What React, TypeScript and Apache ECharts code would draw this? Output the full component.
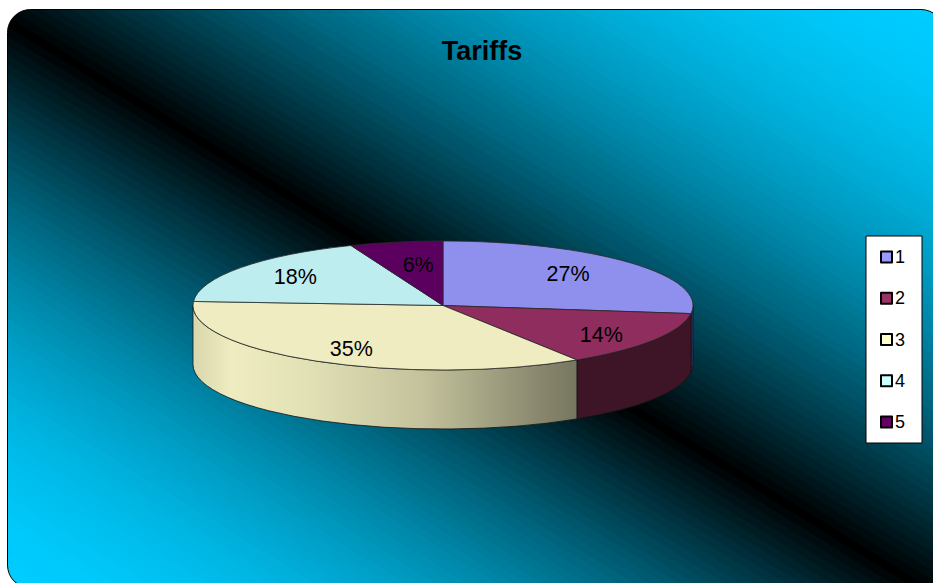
import React, { useEffect, useRef } from "react";
import * as echarts from "echarts";

// Tariff shares, one pie slice per tariff group.
const sliceNames = ["1", "2", "3", "4", "5"];
const sliceValues = [27, 14, 35, 18, 6];
const topColors = ["#8F8FEE", "#8E2D5E", "#EEECC0", "#BDEDEE", "#5C0060"];
const legendColors = ["#9999FF", "#993366", "#FFFFCC", "#CCFFFF", "#660066"];
const wallColors = ["#2E3B73", "#3D1526", "", "", ""];
const labelReach = [
  [0.667, 0.75],
  [0.75, 0.86],
  [0.72, 0.786],
  [0.73, 0.75],
  [0.53, 0.64],
];

const TITLE = "Tariffs";
const WIDTH = 933;
const HEIGHT = 583;

// Disc geometry
const CX = 443;
const CY = 305.5;
const RX = 250;
const RY = 64.5;
const DEPTH = 59;

const total = sliceValues.reduce((a, b) => a + b, 0);

const pointAt = (deg: number, drop = 0) => {
  const t = (deg * Math.PI) / 180;
  return [CX + RX * Math.sin(t), CY - RY * Math.cos(t) + drop];
};

const startAngle = (index: number) =>
  (sliceValues.slice(0, index).reduce((a, b) => a + b, 0) / total) * 360;

const arcTo = (deg: number, drop: number, sweep: 0 | 1, large: number) => {
  const [x, y] = pointAt(deg, drop);
  return `A${RX} ${RY} 0 ${large} ${sweep} ${x} ${y}`;
};

const topPath = (a: number, b: number) => {
  const [sx, sy] = pointAt(a);
  return `M${CX} ${CY}L${sx} ${sy}${arcTo(b, 0, 1, b - a > 180 ? 1 : 0)}Z`;
};

// Outer wall of the disc; only the part between 90 and 270 degrees faces the viewer.
const wallPath = (a: number, b: number) => {
  const from = Math.max(a, 90);
  const to = Math.min(b, 270);
  if (to <= from) return null;
  const [sx, sy] = pointAt(from);
  const [ex, ey] = pointAt(to, DEPTH);
  return (
    `M${sx} ${sy}` +
    arcTo(to, 0, 1, 0) +
    `L${ex} ${ey}` +
    arcTo(from, DEPTH, 0, 0) +
    "Z"
  );
};

// The cream slice has a shaded wall running across the disc.
const creamWall = new echarts.graphic.LinearGradient(
  193,
  0,
  575,
  0,
  [
    { offset: 0, color: "#D9D6AC" },
    { offset: 0.1, color: "#EEECC0" },
    { offset: 0.3, color: "#E2E0B5" },
    { offset: 0.6, color: "#C4C29C" },
    { offset: 1, color: "#777660" },
  ],
  true
);

// Stepped cyan-black-cyan backdrop. The black band sits just under the falling
// diagonal; brightness rises quickly away from it and levels off near the corners.
const BAND_AXIS_LENGTH = 975;
const BAND_WIDTH = 8;
const BLACK_AT = 478 / BAND_AXIS_LENGTH;

const backdropStops = () => {
  const s = BAND_WIDTH / BAND_AXIS_LENGTH;
  const shade = (k: number) => `rgb(0,${Math.round(204 * k)},${Math.round(255 * k)})`;
  const stops: { offset: number; color: string }[] = [];
  const n = Math.ceil(1 / s);
  for (let i = -n; i <= n; i++) {
    const lo = BLACK_AT + (i - 0.5) * s;
    const hi = BLACK_AT + (i + 0.5) * s;
    if (hi < 0 || lo > 1) continue;
    const side = i < 0 ? BLACK_AT : 1 - BLACK_AT;
    const d = Math.min(1, (Math.abs(i) * s) / side);
    const color = shade(1 - Math.pow(1 - d, 1.75));
    stops.push({ offset: Math.max(0, lo), color });
    stops.push({ offset: Math.min(1, hi), color });
  }
  return stops;
};

const backdrop = new echarts.graphic.LinearGradient(
  218.4,
  714.4,
  731.6,
  -114.6,
  backdropStops(),
  true
);

function buildOption() {
  return {
    animation: false,
    title: {
      text: TITLE,
      left: 477,
      top: 32,
      textAlign: "center",
      textStyle: {
        fontFamily: "Liberation Sans",
        fontSize: 27,
        fontWeight: "bold",
        color: "#000",
      },
    },
    legend: {
      orient: "vertical",
      left: 866,
      top: 236,
      padding: [12, 17, 12, 14],
      itemWidth: 11,
      itemHeight: 11,
      itemGap: 23.25,
      selectedMode: false,
      backgroundColor: "#fff",
      borderColor: "#000",
      borderWidth: 1,
      icon: "rect",
      textStyle: {
        fontFamily: "Liberation Sans",
        fontSize: 18,
        color: "#000",
        padding: [0, 0, 0, -2],
      },
      data: sliceNames.map((name, i) => ({
        name,
        itemStyle: {
          color: legendColors[i],
          borderColor: "#000",
          borderWidth: 2,
          borderJoin: "round",
        },
      })),
    },
    graphic: [
      {
        type: "rect",
        z: -10,
        shape: { x: 7.5, y: 9.5, width: 936.5, height: 578.5, r: 23 },
        style: { fill: backdrop, stroke: "#000", lineWidth: 1 },
      },
    ],
    series: sliceNames.map((name, i) => ({
      type: "custom",
      name,
      coordinateSystem: "none",
      data: [sliceValues[i]],
      itemStyle: { color: legendColors[i] },
      renderItem: (_params: any, api: any) => {
        const value = api.value(0);
        const a = startAngle(i);
        const b = a + (value / total) * 360;
        const mid = ((a + b) / 2) * (Math.PI / 180);
        const children: any[] = [];
        const wall = wallPath(a, b);
        if (wall) {
          children.push({
            type: "path",
            z2: 1,
            shape: { pathData: wall },
            style: {
              fill: wallColors[i] || creamWall,
              stroke: "#111",
              lineWidth: 0.8,
            },
          });
        }
        children.push({
          type: "path",
          z2: 5,
          shape: { pathData: topPath(a, b) },
          style: { fill: topColors[i], stroke: "#2a2a2a", lineWidth: 0.8 },
        });
        children.push({
          type: "text",
          z2: 10,
          style: {
            x: CX + RX * labelReach[i][0] * Math.sin(mid),
            y: CY - RY * labelReach[i][1] * Math.cos(mid),
            text: `${Math.round((value / total) * 100)}%`,
            fill: "#000",
            font: '21.5px "Liberation Sans"',
            align: "center",
            verticalAlign: "middle",
          },
        });
        return { type: "group", children };
      },
    })),
  };
}

export default function App() {
  const ref = useRef<HTMLDivElement>(null);
  useEffect(() => {
    document.body.style.margin = "0";
    const chart = echarts.init(ref.current!, undefined, { renderer: "svg" });
    chart.setOption(buildOption() as any);
    return () => chart.dispose();
  }, []);
  return (
    <div
      ref={ref}
      style={{ width: WIDTH, height: HEIGHT, background: "#fff", overflow: "hidden" }}
    />
  );
}
